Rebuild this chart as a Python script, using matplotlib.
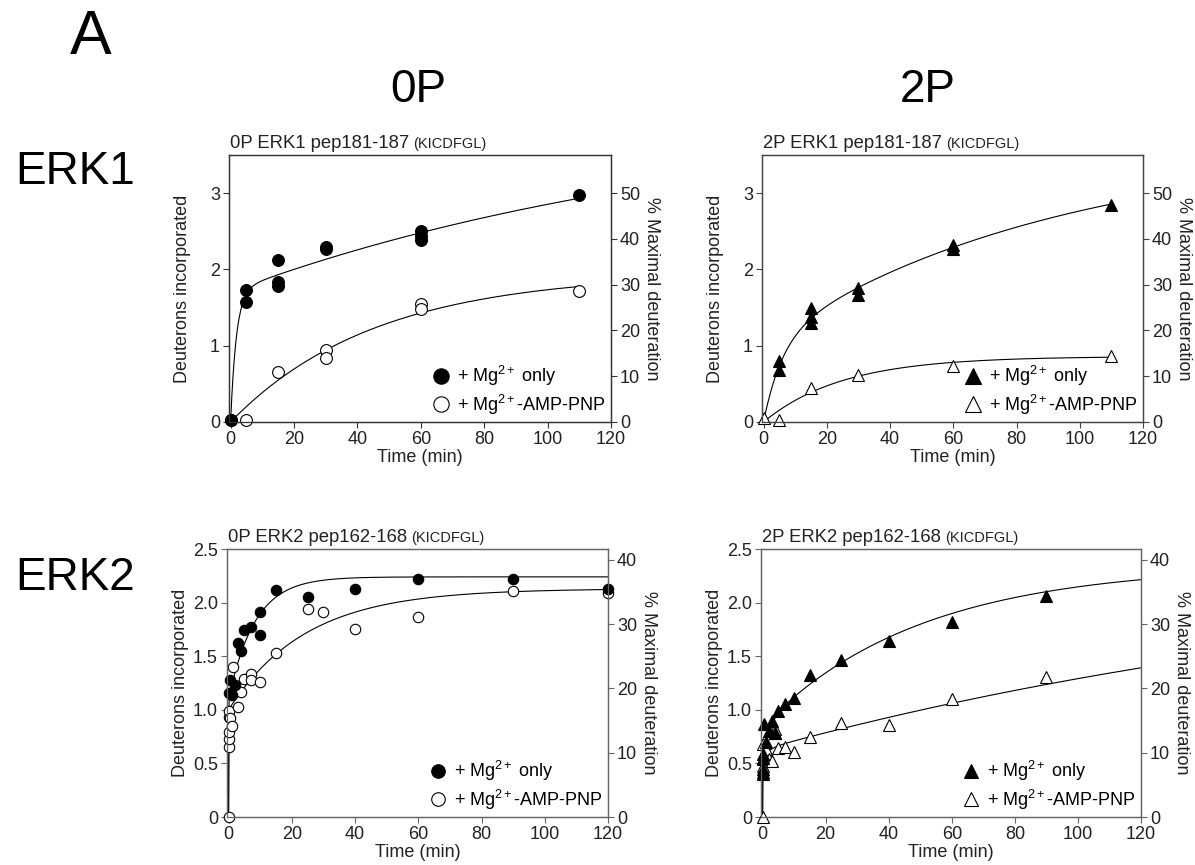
import numpy as np
import matplotlib
matplotlib.use("Agg")
import matplotlib.pyplot as plt

plt.rcParams["font.family"] = ["Liberation Sans", "DejaVu Sans"]
plt.rcParams["mathtext.fontset"] = "custom"
plt.rcParams["mathtext.rm"] = "Liberation Sans"
plt.rcParams["mathtext.it"] = "Liberation Sans:italic"

# ---- measured deuterium uptake (deuterons incorporated vs time in min) ----
# 0P ERK1 pep181-187
t_0p_erk1_mg = [0, 5, 5, 15, 15, 15, 30, 30, 60, 60, 60, 110]
d_0p_erk1_mg = [0.03, 1.73, 1.57, 2.13, 1.83, 1.78, 2.29, 2.27, 2.50, 2.44, 2.38, 2.97]
t_0p_erk1_amp = [0, 5, 15, 30, 30, 60, 60, 110]
d_0p_erk1_amp = [0.02, 0.03, 0.66, 0.95, 0.84, 1.55, 1.48, 1.72]

# 2P ERK1 pep181-187
t_2p_erk1_mg = [5, 5, 15, 15, 15, 30, 30, 60, 60, 110]
d_2p_erk1_mg = [0.80, 0.68, 1.50, 1.37, 1.30, 1.76, 1.67, 2.32, 2.27, 2.84]
t_2p_erk1_amp = [0, 5, 15, 30, 60, 110]
d_2p_erk1_amp = [0.05, 0.03, 0.45, 0.61, 0.74, 0.86]

# 0P ERK2 pep162-168
t_0p_erk2_mg = [0.25, 0.5, 1, 2, 3, 4, 5, 7, 10, 10, 15, 25, 40, 60, 90, 120]
d_0p_erk2_mg = [1.16, 1.28, 1.14, 1.23, 1.62, 1.55, 1.74, 1.77, 1.91, 1.70,
                2.12, 2.05, 2.13, 2.22, 2.22, 2.13]
t_0p_erk2_amp = [0, 0.05, 0.1, 0.1, 0.25, 0.25, 0.5, 1, 1.5, 2, 2, 3, 4, 5,
                 7, 7, 10, 15, 25, 30, 40, 60, 90, 120]
d_0p_erk2_amp = [0, 0.65, 0.73, 0.79, 0.93, 0.99, 0.92, 0.85, 1.40, 1.18, 1.20,
                 1.03, 1.17, 1.29, 1.33, 1.28, 1.26, 1.53, 1.94, 1.91, 1.75,
                 1.87, 2.11, 2.09]

# 2P ERK2 pep162-168
t_2p_erk2_mg = [0.05, 0.1, 0.17, 0.25, 0.5, 1, 2, 3, 4, 5, 7, 10, 15, 25, 40, 60, 90]
d_2p_erk2_mg = [0.40, 0.45, 0.55, 0.59, 0.87, 0.70, 0.80, 0.90, 0.78, 0.99,
                1.05, 1.11, 1.32, 1.46, 1.64, 1.82, 2.06]
t_2p_erk2_amp = [0, 0.05, 0.1, 0.17, 0.25, 0.5, 1, 2, 3, 4, 4, 5, 7, 10, 15,
                 25, 40, 60, 90]
d_2p_erk2_amp = [0, 0.42, 0.48, 0.54, 0.68, 0.60, 0.63, 0.54, 0.52, 0.82, 0.78,
                 0.64, 0.65, 0.61, 0.75, 0.875, 0.86, 1.10, 1.31]

# multi-exponential fits: list of (amplitude, rate 1/min)
fit_0p_erk1_mg = [(1.71, 0.55), (2.42, 0.0064)]
fit_0p_erk1_amp = [(1.95, 0.022)]
fit_2p_erk1_mg = [(1.05, 0.17), (2.60, 0.0108)]
fit_2p_erk1_amp = [(0.86, 0.04)]
fit_0p_erk2_mg = [(1.10, 20.0), (1.14, 0.12)]
fit_0p_erk2_amp = [(1.00, 10.0), (1.13, 0.041)]
fit_2p_erk2_mg = [(0.55, 15.0), (0.30, 0.5), (1.50, 0.02)]
fit_2p_erk2_amp = [(0.55, 15.0), (0.08, 0.5), (1.87, 0.00436)]

W, H = 1195, 865
fig = plt.figure(figsize=(W / 100, H / 100), dpi=100)

TXT = "#222222"


def uptake(t, params):
    return sum(a * (1 - np.exp(-k * t)) for a, k in params)


def panel(rect, title, seq, data, fits, tmax, ymax, yticks, yticklabels,
          max_d, rticks, mk, ms, spine_col):
    ax = fig.add_axes(rect)
    ax.set_xlim(-0.5, 120)
    ax.set_ylim(0, ymax)
    for sp in ax.spines.values():
        sp.set_color(spine_col)
        sp.set_linewidth(0.9)

    t_grid = np.concatenate([np.linspace(0, 1, 300), np.linspace(1, tmax, 400)])
    for params in fits:
        ax.plot(t_grid, uptake(t_grid, params), color="black", lw=0.8, zorder=2)

    (tf, df), (to, do) = data
    ax.plot(tf, df, linestyle="none", marker=mk, ms=ms, mfc="black",
            mec="black", mew=0.8, clip_on=False, zorder=4,
            label=r"+ Mg$^{\mathregular{2+}}$ only")
    ax.plot(to, do, linestyle="none", marker=mk, ms=ms, mfc="white",
            mec="black", mew=0.8, clip_on=False, zorder=3,
            label=r"+ Mg$^{\mathregular{2+}}$-AMP-PNP")

    ax.set_xticks(range(0, 121, 20))
    ax.set_yticks(yticks)
    ax.set_yticklabels(yticklabels)
    ax.tick_params(direction="out", length=4, width=0.8, color=spine_col,
                   labelsize=13, pad=2.5, labelcolor=TXT)
    ax.tick_params(axis="x", top=False)
    ax.set_xlabel("Time (min)", fontsize=13, color=TXT)
    ax.set_ylabel("Deuterons incorporated", fontsize=13, color=TXT)
    ax.xaxis.set_label_coords(0.5, -0.1)
    ax.yaxis.set_label_coords(-0.1, 0.5)

    # right axis: percent of maximal deuteration
    ax2 = ax.twinx()
    ax2.set_ylim(0, ymax * 100 / max_d)
    ax2.set_yticks(rticks)
    for sp in ax2.spines.values():
        sp.set_color(spine_col)
        sp.set_linewidth(0.9)
    ax2.tick_params(direction="out", length=4, width=0.8, color=spine_col,
                    labelsize=13, pad=2.5, labelcolor=TXT)
    ax2.set_ylabel("% Maximal deuteration", fontsize=13, color=TXT,
                   rotation=270, va="bottom")
    ax2.yaxis.set_label_coords(1.083, 0.5)

    t1 = ax.text(0.003, 1.026, title, transform=ax.transAxes, fontsize=13.3,
                 color=TXT, va="baseline", ha="left")
    ax.annotate(seq, xy=(1, 0), xycoords=t1, xytext=(3, 0.6),
                textcoords="offset points", fontsize=10.5, color=TXT,
                va="bottom", ha="left")

    ax.legend(loc="lower right", frameon=False, fontsize=13, markerscale=1.3,
              handletextpad=0.3, labelspacing=0.25, borderaxespad=0.1,
              borderpad=0.2, handlelength=1.2)
    return ax


row_top = (1 - 422 / H, 267 / H)
row_bot = (1 - 817 / H, 268 / H)

panel([229 / W, row_top[0], 382 / W, row_top[1]], "0P ERK1 pep181-187", "(KICDFGL)",
      ((t_0p_erk1_mg, d_0p_erk1_mg), (t_0p_erk1_amp, d_0p_erk1_amp)),
      (fit_0p_erk1_mg, fit_0p_erk1_amp), 110, 3.5, [0, 1, 2, 3],
      ["0", "1", "2", "3"], 6, range(0, 51, 10), "o", 8.5, "#333333")

panel([762 / W, row_top[0], 381 / W, row_top[1]], "2P ERK1 pep181-187", "(KICDFGL)",
      ((t_2p_erk1_mg, d_2p_erk1_mg), (t_2p_erk1_amp, d_2p_erk1_amp)),
      (fit_2p_erk1_mg, fit_2p_erk1_amp), 110, 3.5, [0, 1, 2, 3],
      ["0", "1", "2", "3"], 6, range(0, 51, 10), "^", 9, "#444444")

panel([227 / W, row_bot[0], 381 / W, row_bot[1]], "0P ERK2 pep162-168", "(KICDFGL)",
      ((t_0p_erk2_mg, d_0p_erk2_mg), (t_0p_erk2_amp, d_0p_erk2_amp)),
      (fit_0p_erk2_mg, fit_0p_erk2_amp), 120, 2.5, [0, 0.5, 1.0, 1.5, 2.0, 2.5],
      ["0", "0.5", "1.0", "1.5", "2.0", "2.5"], 6, range(0, 41, 10), "o",
      7.5, "#666666")

panel([761 / W, row_bot[0], 380 / W, row_bot[1]], "2P ERK2 pep162-168", "(KICDFGL)",
      ((t_2p_erk2_mg, d_2p_erk2_mg), (t_2p_erk2_amp, d_2p_erk2_amp)),
      (fit_2p_erk2_mg, fit_2p_erk2_amp), 120, 2.5, [0, 0.5, 1.0, 1.5, 2.0, 2.5],
      ["0", "0.5", "1.0", "1.5", "2.0", "2.5"], 6, range(0, 41, 10), "^",
      8, "#666666")

# panel and row/column headings
fig.text(91 / W, 1 - 38 / H, "A", fontsize=45, ha="center", va="center")
fig.text(418 / W, 1 - 90 / H, "0P", fontsize=33, ha="center", va="center")
fig.text(928 / W, 1 - 90 / H, "2P", fontsize=33, ha="center", va="center")
fig.text(15 / W, 1 - 172 / H, "ERK1", fontsize=33, ha="left", va="center")
fig.text(15 / W, 1 - 578 / H, "ERK2", fontsize=33, ha="left", va="center")

fig.savefig("out.png", dpi=100)
